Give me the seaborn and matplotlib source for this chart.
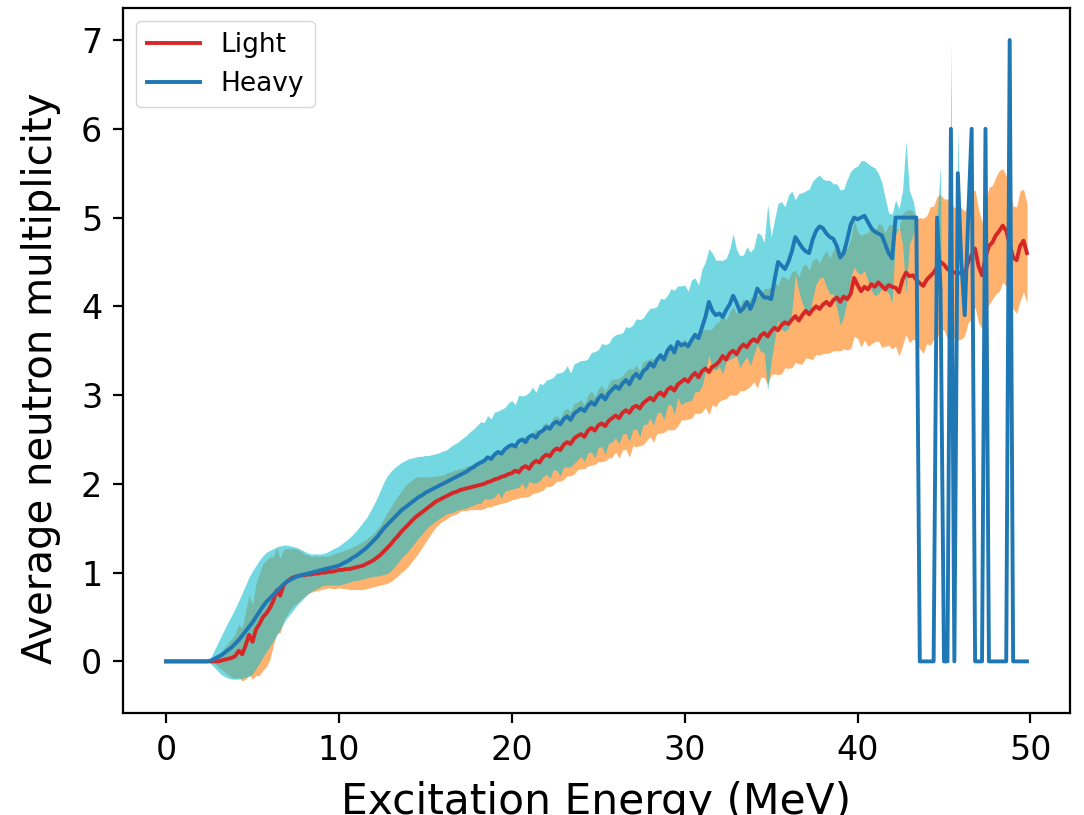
import numpy as np
import matplotlib
matplotlib.use("Agg")
import matplotlib.pyplot as plt
import seaborn as sns
import pandas as pd

# Excitation energy bins (MeV), 0.2 MeV steps from 0 to 49.8
energy = np.round(np.arange(250) * 0.2, 1)

light_mean = [
    0, 0, 0, 0, 0, 0, 0, 0, 0, 0,
    0, 0, 0, 0, 0, 0.0, 0.01, 0.02, 0.03, 0.04,
    0.06, 0.12, 0.08, 0.18, 0.3, 0.22, 0.36, 0.42, 0.5, 0.54,
    0.6, 0.68, 0.8, 0.74, 0.86, 0.9, 0.93, 0.95, 0.96, 0.97,
    0.97, 0.98, 0.98, 0.99, 0.99, 1.0, 1.0, 1.01, 1.01, 1.02,
    1.03, 1.03, 1.04, 1.04, 1.05, 1.06, 1.07, 1.08, 1.1, 1.12,
    1.14, 1.17, 1.2, 1.24, 1.28, 1.32, 1.37, 1.41, 1.46, 1.5,
    1.54, 1.58, 1.62, 1.65, 1.68, 1.71, 1.74, 1.77, 1.8, 1.82,
    1.84, 1.86, 1.88, 1.9, 1.91, 1.93, 1.94, 1.95, 1.96, 1.97,
    1.98, 1.99, 2.0, 2.02, 2.03, 2.05, 2.06, 2.08, 2.09, 2.11,
    2.12, 2.15, 2.13, 2.18, 2.2, 2.17, 2.23, 2.26, 2.24, 2.3,
    2.33, 2.31, 2.37, 2.4, 2.38, 2.44, 2.47, 2.45, 2.51, 2.54,
    2.56, 2.53, 2.6, 2.63, 2.6, 2.66, 2.68, 2.65, 2.71, 2.74,
    2.77, 2.74, 2.8, 2.83, 2.8, 2.86, 2.88, 2.85, 2.91, 2.94,
    2.97, 2.94, 3.0, 3.03, 2.99, 3.06, 3.09, 3.05, 3.12, 3.15,
    3.18, 3.15, 3.21, 3.25, 3.2, 3.27, 3.3, 3.26, 3.32, 3.34,
    3.38, 3.44, 3.4, 3.47, 3.5, 3.46, 3.53, 3.57, 3.54, 3.6,
    3.63, 3.6, 3.67, 3.7, 3.66, 3.72, 3.76, 3.73, 3.79, 3.82,
    3.8, 3.85, 3.89, 3.84, 3.9, 3.95, 3.91, 3.96, 4.0, 3.97,
    4.02, 4.05, 4.01, 4.07, 4.1, 4.05, 4.11, 4.08, 4.14, 4.32,
    4.24, 4.17, 4.22, 4.19, 4.25, 4.22, 4.27, 4.23, 4.19, 4.24,
    4.22, 4.21, 4.16, 4.3, 4.38, 4.34, 4.35, 4.3, 4.26, 4.23,
    4.3, 4.34, 4.38, 4.44, 4.5, 4.47, 4.42, 4.4, 4.38, 4.38,
    4.37, 4.37, 4.5, 4.58, 4.65, 4.45, 4.35, 4.55, 4.68, 4.72,
    4.8, 4.85, 4.91, 4.85, 4.7, 4.55, 4.52, 4.68, 4.74, 4.6,
]

light_std = [
    0, 0, 0, 0, 0, 0, 0, 0, 0, 0,
    0, 0, 0, 0, 0.02, 0.06, 0.1, 0.14, 0.18, 0.22,
    0.25, 0.3, 0.3, 0.38, 0.45, 0.42, 0.52, 0.58, 0.6, 0.6,
    0.58, 0.5, 0.48, 0.42, 0.4, 0.37, 0.34, 0.32, 0.3, 0.27,
    0.24, 0.22, 0.2, 0.2, 0.19, 0.19, 0.18, 0.18, 0.19, 0.2,
    0.2, 0.21, 0.22, 0.23, 0.24, 0.25, 0.26, 0.27, 0.28, 0.29,
    0.3, 0.32, 0.34, 0.37, 0.4, 0.42, 0.44, 0.45, 0.46, 0.47,
    0.47, 0.46, 0.45, 0.43, 0.4, 0.37, 0.34, 0.31, 0.29, 0.27,
    0.26, 0.26, 0.25, 0.25, 0.25, 0.24, 0.24, 0.25, 0.25, 0.26,
    0.27, 0.28, 0.28, 0.28, 0.29, 0.29, 0.29, 0.3, 0.3, 0.31,
    0.3, 0.32, 0.29, 0.33, 0.35, 0.31, 0.34, 0.36, 0.33, 0.37,
    0.36, 0.34, 0.38, 0.37, 0.35, 0.39, 0.38, 0.36, 0.4, 0.38,
    0.39, 0.36, 0.4, 0.42, 0.38, 0.41, 0.43, 0.39, 0.42, 0.44,
    0.41, 0.45, 0.42, 0.44, 0.5, 0.43, 0.46, 0.42, 0.47, 0.45,
    0.44, 0.47, 0.43, 0.46, 0.41, 0.45, 0.48, 0.44, 0.47, 0.43,
    0.46, 0.42, 0.47, 0.45, 0.41, 0.46, 0.44, 0.48, 0.43, 0.47,
    0.45, 0.49, 0.44, 0.47, 0.5, 0.46, 0.48, 0.52, 0.47, 0.5,
    0.48, 0.52, 0.47, 0.5, 0.54, 0.49, 0.52, 0.5, 0.55, 0.51,
    0.5, 0.54, 0.52, 0.49, 0.55, 0.53, 0.5, 0.56, 0.54, 0.52,
    0.55, 0.58, 0.53, 0.57, 0.6, 0.55, 0.59, 0.57, 0.62, 0.66,
    0.6, 0.63, 0.6, 0.64, 0.67, 0.62, 0.66, 0.69, 0.64, 0.68,
    0.7, 0.66, 0.72, 0.74, 0.7, 0.75, 0.72, 0.68, 0.74, 0.76,
    0.72, 0.78, 0.75, 0.8, 0.76, 0.74, 0.79, 0.77, 0.73, 0.76,
    0.74, 0.7, 0.68, 0.72, 0.66, 0.64, 0.6, 0.62, 0.66, 0.64,
    0.66, 0.68, 0.64, 0.62, 0.6, 0.58, 0.6, 0.62, 0.58, 0.56,
]

heavy_mean = [
    0, 0, 0, 0, 0, 0, 0, 0, 0, 0,
    0, 0, 0, 0.01, 0.03, 0.05, 0.07, 0.1, 0.13, 0.16,
    0.2, 0.24, 0.29, 0.34, 0.39, 0.44, 0.5, 0.56, 0.62, 0.67,
    0.71, 0.75, 0.79, 0.83, 0.87, 0.9, 0.92, 0.94, 0.96, 0.97,
    0.98, 0.99, 1.0, 1.01, 1.02, 1.03, 1.04, 1.05, 1.06, 1.07,
    1.08, 1.1, 1.12, 1.14, 1.17, 1.19, 1.22, 1.25, 1.28, 1.32,
    1.36, 1.4, 1.45, 1.5, 1.54, 1.58, 1.62, 1.66, 1.7, 1.73,
    1.76, 1.79, 1.82, 1.85, 1.87, 1.9, 1.92, 1.94, 1.96, 1.98,
    2.0, 2.02, 2.04, 2.06, 2.08, 2.1, 2.12, 2.14, 2.17, 2.19,
    2.22, 2.24, 2.26, 2.3, 2.28, 2.33, 2.36, 2.34, 2.39, 2.42,
    2.44, 2.42, 2.48, 2.5, 2.47, 2.53, 2.55, 2.52, 2.58, 2.6,
    2.64, 2.62, 2.68, 2.7, 2.67, 2.73, 2.76, 2.72, 2.79, 2.82,
    2.85, 2.82, 2.88, 2.92, 2.89, 2.96, 3.0, 2.95, 3.02, 3.06,
    3.1, 3.07, 3.13, 3.17, 3.12, 3.2, 3.24, 3.19, 3.27, 3.3,
    3.36, 3.32, 3.4, 3.45, 3.4, 3.5, 3.55, 3.48, 3.6, 3.56,
    3.58, 3.55, 3.62, 3.68, 3.64, 3.76, 3.88, 4.05, 3.95, 3.9,
    3.92, 3.88, 3.96, 4.02, 4.12, 4.04, 3.94, 3.98, 4.05, 3.97,
    4.06, 4.2, 4.15, 4.1, 4.1, 4.08, 4.3, 4.5, 4.46, 4.42,
    4.5, 4.62, 4.78, 4.72, 4.66, 4.62, 4.6, 4.75, 4.85, 4.9,
    4.88, 4.82, 4.78, 4.76, 4.68, 4.55, 4.6, 4.75, 4.92, 5.0,
    4.98, 5.0, 5.02, 4.95, 4.88, 4.84, 4.82, 4.8, 4.7, 4.6,
    4.54, 5.0, 5.0, 5.0, 5.0, 5.0, 5.0, 5.0, 0, 0,
    0, 0, 0, 5.0, 4.2, 0, 0, 6.0, 0, 5.5,
    4.5, 3.9, 5.0, 6.0, 0, 0, 0, 6.0, 0, 0,
    0, 0, 0, 0, 7.0, 0, 0, 0, 0, 0,
]

heavy_std = [
    0, 0, 0, 0, 0, 0, 0, 0, 0, 0,
    0, 0, 0, 0.04, 0.1, 0.16, 0.22, 0.27, 0.32, 0.36,
    0.4, 0.44, 0.48, 0.52, 0.56, 0.58, 0.58, 0.58, 0.57, 0.56,
    0.54, 0.52, 0.5, 0.47, 0.44, 0.41, 0.38, 0.35, 0.32, 0.29,
    0.26, 0.23, 0.21, 0.2, 0.19, 0.18, 0.18, 0.19, 0.2, 0.21,
    0.22, 0.23, 0.24, 0.25, 0.26, 0.28, 0.3, 0.32, 0.34, 0.37,
    0.4, 0.44, 0.48, 0.52, 0.55, 0.56, 0.56, 0.55, 0.54, 0.53,
    0.52, 0.5, 0.48, 0.46, 0.44, 0.42, 0.4, 0.39, 0.38, 0.37,
    0.37, 0.36, 0.37, 0.38, 0.38, 0.39, 0.4, 0.41, 0.42, 0.43,
    0.44, 0.46, 0.43, 0.47, 0.45, 0.48, 0.46, 0.5, 0.47, 0.49,
    0.5, 0.47, 0.52, 0.49, 0.53, 0.5, 0.54, 0.51, 0.55, 0.52,
    0.53, 0.56, 0.52, 0.55, 0.58, 0.54, 0.57, 0.53, 0.56, 0.55,
    0.54, 0.57, 0.53, 0.56, 0.6, 0.55, 0.58, 0.62, 0.56, 0.59,
    0.58, 0.62, 0.57, 0.6, 0.64, 0.59, 0.62, 0.66, 0.6, 0.63,
    0.62, 0.66, 0.6, 0.64, 0.68, 0.62, 0.65, 0.7, 0.63, 0.67,
    0.66, 0.62, 0.68, 0.64, 0.6, 0.66, 0.62, 0.6, 0.65, 0.62,
    0.6, 0.64, 0.58, 0.62, 0.7, 0.6, 0.63, 0.6, 0.62, 0.64,
    0.6, 0.63, 0.66, 0.62, 1.05, 0.7, 0.68, 0.66, 0.72, 0.7,
    0.75, 0.68, 0.42, 0.55, 0.62, 0.68, 0.72, 0.66, 0.6, 0.58,
    0.55, 0.6, 0.64, 0.62, 0.7, 0.76, 0.72, 0.68, 0.6, 0.56,
    0.6, 0.64, 0.62, 0.66, 0.7, 0.72, 0.68, 0.6, 0.52, 0.45,
    0.5, 0.2, 0.1, 0.3, 0.86, 0.3, 0.2, 0.0, 0, 0,
    0, 0, 0, 0, 1.4, 0, 0, 1.0, 0, 0.5,
    0, 0, 0, 0, 0, 0, 0, 0, 0, 0,
    0, 0, 0, 0, 0, 0, 0, 0, 0, 0,
]

df = pd.DataFrame({
    "energy": energy,
    "light": light_mean,
    "light_sd": light_std,
    "heavy": heavy_mean,
    "heavy_sd": heavy_std,
})

plt.rcParams["font.family"] = ["DejaVu Sans"]

fig = plt.figure(figsize=(10.84, 8.15), dpi=100)
ax = fig.add_axes([0.1135, 0.1252, 0.8736, 0.865])

ax.fill_between(df["energy"], df["light"] - df["light_sd"], df["light"] + df["light_sd"],
                color="tab:orange", alpha=0.6, linewidth=0)
ax.fill_between(df["energy"], df["heavy"] - df["heavy_sd"], df["heavy"] + df["heavy_sd"],
                color="tab:cyan", alpha=0.6, linewidth=0)
sns.lineplot(data=df, x="energy", y="light", color="tab:red", linewidth=2.8,
             label="Light", ax=ax)
sns.lineplot(data=df, x="energy", y="heavy", color="tab:blue", linewidth=2.8,
             label="Heavy", ax=ax)

ax.set_xlabel("Excitation Energy (MeV)", fontsize=30.5, labelpad=10)
ax.set_ylabel("Average neutron multiplicity", fontsize=29, labelpad=10)
ax.yaxis.set_label_coords(-0.065, 0.475)
ax.set_xticks([0, 10, 20, 30, 40, 50])
ax.set_yticks([0, 1, 2, 3, 4, 5, 6, 7])
ax.tick_params(labelsize=24, length=7, width=1.6, pad=8)
for s in ax.spines.values():
    s.set_linewidth(1.6)
ax.legend(loc="upper left", fontsize=19)

fig.savefig("out.png", dpi=100)
